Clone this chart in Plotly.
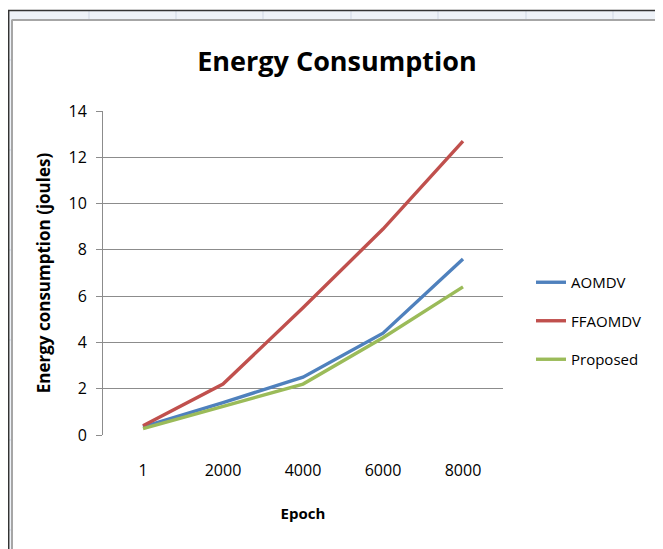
import plotly.graph_objects as go

categories = ["1", "2000", "4000", "6000", "8000"]
aomdv = [0.35, 1.4, 2.5, 4.4, 7.6]
ffaomdv = [0.4, 2.2, 5.5, 8.9, 12.7]
proposed = [0.28, 1.25, 2.2, 4.2, 6.4]
y_ticks = [0, 2, 4, 6, 8, 10, 12, 14]

OFF = 8  # page body margin
W, H = 663 - OFF, 549 - OFF
# plot area in page pixels
L, R, T, B = 103, 503, 111, 435

def px(x):
    return (x - L) / (R - L)

def py(y):
    return (B - y) / (B - T)

series = [
    ("AOMDV", aomdv, "#4F81BD"),
    ("FFAOMDV", ffaomdv, "#C0504D"),
    ("Proposed", proposed, "#9BBB59"),
]

fig = go.Figure()
for i, (name, vals, col) in enumerate(series):
    fig.add_trace(go.Scatter(
        x=categories, y=vals, name=name, mode="lines",
        line=dict(color=col, width=3.4),
        legendgroup=f"g{i}",
    ))

XMAX = 680
YMAX = 560
shapes = []
shapes.append(dict(type="rect", xref="paper", yref="paper",
                   x0=px(8), x1=px(XMAX), y0=py(11), y1=py(19.5),
                   fillcolor="#EEF2F8", line=dict(width=0), layer="above"))
shapes.append(dict(type="rect", xref="paper", yref="paper",
                   x0=px(8), x1=px(11), y0=py(11), y1=py(YMAX),
                   fillcolor="#EEF2F8", line=dict(width=0), layer="above"))
for cx in [89, 176, 263, 351, 438, 526, 613]:
    shapes.append(dict(type="line", xref="paper", yref="paper",
                       x0=px(cx), x1=px(cx), y0=py(11), y1=py(19),
                       line=dict(color="#D0D7E5", width=1)))
for cy in [60, 150, 250, 340, 440, 530]:
    shapes.append(dict(type="line", xref="paper", yref="paper",
                       x0=px(8), x1=px(11), y0=py(cy), y1=py(cy),
                       line=dict(color="#D0D7E5", width=1)))
shapes.append(dict(type="line", xref="paper", yref="paper",
                   x0=px(8), x1=px(XMAX), y0=py(10.5), y1=py(10.5),
                   line=dict(color="#333333", width=1.5)))
shapes.append(dict(type="line", xref="paper", yref="paper",
                   x0=px(8.7), x1=px(8.7), y0=py(10.5), y1=py(YMAX),
                   line=dict(color="#333333", width=1.5)))
shapes.append(dict(type="line", xref="paper", yref="paper",
                   x0=px(11.5), x1=px(XMAX), y0=py(20), y1=py(20),
                   line=dict(color="#A6A6A6", width=2)))
shapes.append(dict(type="line", xref="paper", yref="paper",
                   x0=px(12), x1=px(12), y0=py(20), y1=py(YMAX),
                   line=dict(color="#A6A6A6", width=2)))

fig.update_layout(
    width=W, height=H,
    margin=dict(l=L - OFF, r=W - (R - OFF), t=T - OFF, b=H - (B - OFF)),
    paper_bgcolor="white", plot_bgcolor="white",
    font=dict(family="Open Sans, sans-serif", color="black"),
    title=dict(text="<b>Energy Consumption</b>", xref="container",
               x=(337 - OFF) / W, xanchor="center",
               y=1 - (62 - OFF) / H, yanchor="middle",
               font=dict(size=27, family="Open Sans, sans-serif", color="black")),
    showlegend=True,
    legend=dict(x=px(531), y=py(266), xanchor="left", yanchor="top",
                font=dict(size=15, color="black"), tracegroupgap=16,
                bgcolor="rgba(0,0,0,0)"),
    shapes=shapes,
    xaxis=dict(
        type="category", range=[-0.5, 4.5],
        showgrid=False, showline=False, ticks="",
        tickfont=dict(size=16), ticklabelstandoff=24,
        title=dict(text="<b>Epoch</b>", font=dict(size=15), standoff=28),
        zeroline=False,
    ),
    yaxis=dict(
        range=[0, 14], tickvals=y_ticks,
        showgrid=True, gridcolor="#8C8C8C", gridwidth=1,
        showline=True, linecolor="#8C8C8C", linewidth=1,
        ticks="outside", ticklen=6, tickcolor="#8C8C8C",
        tickfont=dict(size=16), ticklabelstandoff=6, zeroline=False,
        title=dict(text="<b>Energy consumption (joules)</b>", font=dict(size=17), standoff=13),
    ),
)

fig.write_html("out.html")
